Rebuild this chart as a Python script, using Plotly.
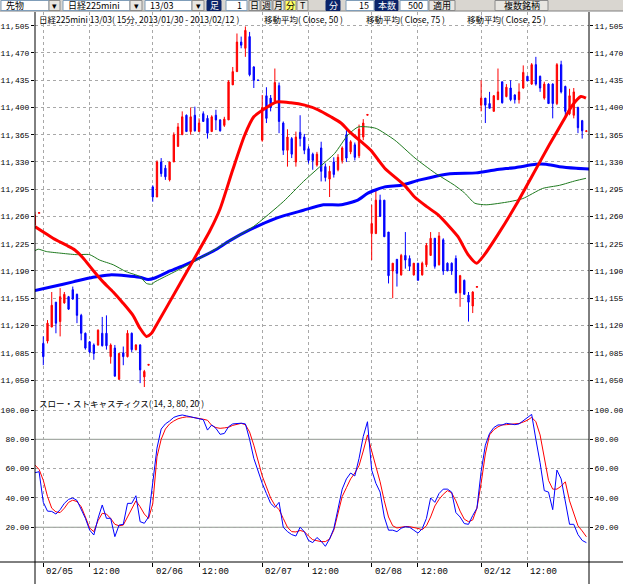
import plotly.graph_objects as go

# ---------------- data ----------------
# 15-minute bars, index 0 = first bar of 02/05, 26 bars per trading day
bar_start = -2
opens = [11249, 11264,
         11097, 11100, 11118, 11150, 11125, 11149, 11157, 11166, 11160, 11133, 11110, 11099, 11095,
         11095, 11110, 11110, 11080, 11091, 11051, 11085, 11080, 11110, 11089, 11095, 11054, 11069,
         11298, 11285, 11330, 11322, 11307, 11330, 11350, 11365, 11390, 11369, 11390, 11369, 11392,
         11386, 11369, 11390, 11384, 11377, 11384, 11429, 11446, 11484, 11476, 11491, 11452, 11435,
         11358, 11415, 11412, 11408, 11428, 11380, 11345, 11360, 11330, 11368, 11362, 11347, 11340,
         11326, 11348, 11324, 11308, 11330, 11320, 11332, 11365, 11343, 11352, 11338, 11362, 11390,
         11238, 11238, 11281, 11281, 11240, 11190, 11205, 11185, 11210, 11206, 11185, 11200, 11185,
         11198, 11210, 11232, 11198, 11230, 11200, 11200, 11206, 11162, 11178, 11159, 11145, 11169,
         11403, 11412, 11405, 11395, 11410, 11433, 11414, 11425, 11416, 11410, 11425, 11440, 11430,
         11455, 11440, 11412, 11430, 11430, 11405, 11455, 11427, 11392, 11390, 11400, 11383, 11369]
highs = [11266, 11265,
         11106, 11127, 11163, 11150, 11168, 11163, 11158, 11170, 11161, 11135, 11111, 11100, 11097,
         11115, 11131, 11133, 11097, 11095, 11085, 11093, 11114, 11111, 11096, 11096, 11063, 11070,
         11300, 11332, 11335, 11326, 11330, 11368, 11380, 11395, 11391, 11400, 11401, 11386, 11395,
         11390, 11390, 11397, 11385, 11388, 11435, 11452, 11495, 11491, 11504, 11497, 11453, 11435,
         11416, 11426, 11416, 11450, 11432, 11382, 11372, 11362, 11369, 11390, 11366, 11350, 11342,
         11343, 11356, 11328, 11325, 11336, 11340, 11350, 11372, 11358, 11355, 11378, 11385, 11391,
         11275, 11294, 11288, 11281, 11240, 11200, 11205, 11212, 11240, 11210, 11200, 11200, 11202,
         11226, 11240, 11232, 11240, 11232, 11201, 11201, 11210, 11185, 11179, 11163, 11164, 11170,
         11435, 11412, 11420, 11416, 11450, 11433, 11430, 11435, 11417, 11431, 11454, 11441, 11457,
         11465, 11441, 11433, 11431, 11431, 11457, 11460, 11428, 11424, 11425, 11401, 11384, 11370]
lows = [11249, 11264,
        11069, 11097, 11118, 11110, 11106, 11148, 11140, 11153, 11123, 11101, 11089, 11084, 11076,
        11094, 11093, 11089, 11071, 11054, 11050, 11069, 11079, 11086, 11088, 11046, 11041, 11069,
        11279, 11285, 11311, 11307, 11305, 11330, 11350, 11365, 11369, 11365, 11369, 11369, 11382,
        11360, 11369, 11371, 11369, 11375, 11384, 11429, 11446, 11476, 11465, 11440, 11425, 11435,
        11356, 11380, 11395, 11405, 11367, 11339, 11324, 11335, 11324, 11350, 11340, 11328, 11320,
        11324, 11305, 11305, 11285, 11310, 11318, 11328, 11330, 11340, 11332, 11335, 11358, 11390,
        11204, 11238, 11260, 11234, 11174, 11155, 11170, 11184, 11193, 11190, 11184, 11178, 11184,
        11195, 11210, 11193, 11197, 11185, 11190, 11185, 11161, 11144, 11160, 11125, 11136, 11169,
        11395, 11380, 11399, 11395, 11410, 11405, 11413, 11408, 11405, 11405, 11424, 11434, 11429,
        11428, 11420, 11410, 11405, 11386, 11403, 11418, 11388, 11390, 11386, 11367, 11360, 11369]
closes = [11262, 11265,
          11080, 11123, 11146, 11123, 11157, 11160, 11141, 11154, 11133, 11110, 11091, 11086, 11084,
          11114, 11094, 11094, 11095, 11055, 11084, 11080, 11110, 11089, 11095, 11063, 11061, 11070,
          11285, 11330, 11315, 11311, 11330, 11365, 11375, 11388, 11369, 11388, 11370, 11380, 11382,
          11367, 11388, 11384, 11370, 11385, 11433, 11446, 11484, 11480, 11499, 11442, 11435, 11435,
          11400, 11386, 11400, 11432, 11382, 11345, 11362, 11340, 11362, 11360, 11345, 11332, 11332,
          11340, 11318, 11310, 11318, 11314, 11336, 11348, 11335, 11356, 11336, 11372, 11380, 11391,
          11251, 11281, 11260, 11234, 11184, 11200, 11187, 11210, 11204, 11196, 11200, 11178, 11200,
          11223, 11232, 11196, 11235, 11190, 11190, 11190, 11162, 11184, 11160, 11150, 11163, 11170,
          11412, 11403, 11399, 11415, 11420, 11406, 11426, 11410, 11410, 11420, 11445, 11434, 11455,
          11430, 11425, 11430, 11405, 11405, 11455, 11420, 11395, 11415, 11420, 11374, 11370, 11370]

# moving averages (sampled along the curves; x = bar index)
ma25_idx = [-2, 0, 2.3, 5.5, 7.5, 9.4, 11.8, 14.2, 16.6, 18.9, 21.3, 22.9, 24.5, 25.7, 26.5, 32.5,
            39.6, 42, 45, 47.8, 50, 52.5, 55.4, 58.8, 62.1, 65.3, 68.3, 70.7, 73.1, 75.5, 77.8,
            81.1, 85.8, 88.2, 91.0, 93.8, 96.1, 98.5, 100.9, 102.9, 104.8, 107.9, 112.3, 116.2,
            120.2, 123.4, 125.7, 127.7, 128.9]
ma25_val = [11247, 11240, 11232, 11223, 11217, 11207, 11191, 11176, 11163, 11149, 11133, 11117,
            11106, 11110, 11117, 11174, 11242, 11270, 11320, 11364, 11388, 11398, 11407, 11406,
            11403, 11397, 11388, 11380, 11367, 11356, 11345, 11322, 11300, 11285, 11273, 11262,
            11249, 11234, 11211, 11200, 11211, 11236, 11275, 11313, 11352, 11382, 11403, 11414, 11412]
ma50_idx = [-2, -1.2, 0.7, 3.9, 7.8, 11, 13.4, 16.6, 19.7, 22.9, 24.5, 25.7, 26.5, 30.1, 34.8,
            39.6, 44.3, 49.9, 57, 61.8, 65.3, 69.2, 72.4, 74.8, 77.1, 79.1, 83.5, 88.3, 93.0,
            97.7, 100.1, 102.5, 105.2, 110.7, 113.9, 118.6, 122.6, 126.5, 128.9]
ma50_val = [11216, 11218, 11215, 11213, 11211, 11211, 11204, 11198, 11189, 11183, 11174, 11173,
            11176, 11186, 11199, 11214, 11229, 11247, 11279, 11305, 11322, 11341, 11365, 11375,
            11375, 11373, 11358, 11335, 11316, 11300, 11290, 11277, 11275, 11279, 11283, 11296,
            11300, 11306, 11309]
ma75_idx = [-2, 2.3, 7.1, 11.8, 15.8, 19.7, 22.9, 24.9, 26.5, 30.1, 33.7, 37.2, 40.8, 44.3, 49.1,
            55.4, 61.8, 66.5, 70.8, 74.7, 77.1, 81.1, 85.0, 89.5, 96.6, 102.8, 107.5, 112.3, 117.0,
            119.4, 122.6, 126.6, 129.7]
ma75_val = [11165, 11170, 11176, 11182, 11185, 11184, 11182, 11179, 11181, 11190, 11198, 11207,
            11217, 11229, 11243, 11258, 11268, 11275, 11275, 11281, 11290, 11298, 11300, 11307,
            11315, 11316, 11320, 11323, 11327, 11327, 11324, 11322, 11321]

# slow stochastics (%K blue, %D red), one value per bar from index -2
stoch_k = [57.2, 57.9,
           37, 31, 30.8, 29, 32, 36.3, 39, 40, 38.3, 31.7, 26.1, 18.1, 14.7, 26, 35.2, 26.1, 26.1,
           13.6, 21.5, 22, 36.3, 36.3, 41.5, 23.8, 22.7, 27,
           50, 74, 87, 90.5, 92.5, 95, 96, 96.6, 96, 95.4, 95, 94.3, 93.4, 86.3, 89.8, 87.5, 83.4,
           84, 88.6, 90.5, 91, 91, 90.5, 80, 67, 58,
           50, 43, 36.3, 33.5, 37, 20, 17, 15, 14, 20, 17, 11, 9.5, 13, 10.5, 7, 12, 19, 33, 46,
           53, 57, 55, 67, 82, 92,
           59, 50, 44, 27, 18, 18, 17, 19.3, 20.4, 20, 18, 16, 19, 26, 40, 37, 43, 46, 46, 44, 30,
           27, 22.5, 22, 28, 33,
           58, 76, 84, 88, 89.8, 89.8, 90.9, 90.6, 90, 90.5, 92.6, 95, 97, 80, 64, 45, 44, 32, 59,
           53, 38, 22, 22, 15, 11, 9.5]
stoch_d = [62.5, 59.5,
           52, 41, 33, 30.5, 30, 33, 37, 38.5, 37.5, 34, 27, 19.5, 17, 24.5, 29.5, 29, 26, 22, 21,
           21.5, 27, 32, 38, 34, 29, 26,
           36, 68, 80, 87, 90.5, 92.5, 94, 94.8, 95.3, 95.2, 94.8, 94.3, 93.7, 93, 89.5, 88, 87.5,
           87.8, 88.2, 89.5, 90.3, 90.9, 90, 85, 76, 65,
           55, 47.5, 40, 35, 32, 26, 20, 17, 16.8, 17.8, 17, 14, 11.5, 10.8, 10.2, 10.2, 12, 18,
           30, 41, 47, 53, 57, 62, 72, 83,
           72, 62, 51, 38, 27, 21, 19.5, 20, 20.5, 20.4, 20, 19.2, 18.3, 21, 27, 34.5, 39, 42.5,
           45, 43.5, 38, 31, 25.5, 23.8, 25, 33,
           50, 70, 83, 86.5, 88.5, 89.8, 90, 90.2, 90.4, 90.8, 91.8, 93, 95, 92, 83, 67, 52, 46,
           46, 48, 51, 38, 29, 21, 17.5, 13.5]

tick_idx = [0, 11, 26, 37, 52, 63, 78, 89, 104, 115]
tick_txt = ["02/05", "12:00", "02/06", "12:00", "02/07", "12:00", "02/08", "12:00", "02/12", "12:00"]
price_ticks = list(range(11050, 11506, 35))
stoch_ticks = [20, 40, 60, 80, 100]

bars = list(range(bar_start, bar_start + len(opens)))

# ---------------- layout helpers (pixels -> paper) ----------------
W, H = 623, 584
L, R = 35, 589
T, B = 12, 562
SPLIT = 395


def px(X):
    return (X - L) / (R - L)


def py(Y):
    return (B - Y) / (B - T)


JP = "Noto Sans CJK JP"
MONO = "Liberation Mono, DejaVu Sans Mono, monospace"
GRID = "#a8a8a8"

fig = go.Figure()

fig.add_trace(go.Candlestick(
    x=bars, open=opens, high=highs, low=lows, close=closes,
    increasing=dict(line=dict(color="#ff0000", width=1), fillcolor="#ff0000"),
    decreasing=dict(line=dict(color="#0000ff", width=1), fillcolor="#0000ff"),
    whiskerwidth=0, xaxis="x", yaxis="y", showlegend=False, hoverinfo="skip"))

fig.add_trace(go.Scatter(x=ma75_idx, y=ma75_val, mode="lines", xaxis="x", yaxis="y",
                         line=dict(color="#0000ff", width=3, shape="spline", smoothing=0.6),
                         showlegend=False, hoverinfo="skip"))
fig.add_trace(go.Scatter(x=ma50_idx, y=ma50_val, mode="lines", xaxis="x", yaxis="y",
                         line=dict(color="#1f7a1f", width=1, shape="spline", smoothing=0.6),
                         showlegend=False, hoverinfo="skip"))
fig.add_trace(go.Scatter(x=ma25_idx, y=ma25_val, mode="lines", xaxis="x", yaxis="y",
                         line=dict(color="#ff0000", width=3, shape="spline", smoothing=0.6),
                         showlegend=False, hoverinfo="skip"))

fig.add_trace(go.Scatter(x=bars, y=stoch_d, mode="lines", xaxis="x2", yaxis="y2",
                         line=dict(color="#ff0000", width=1), showlegend=False, hoverinfo="skip"))
fig.add_trace(go.Scatter(x=bars, y=stoch_k, mode="lines", xaxis="x2", yaxis="y2",
                         line=dict(color="#0000ff", width=1), showlegend=False, hoverinfo="skip"))

p_top = 11505 + (25.7 - T) * 1.2842
p_bot = 11505 - (SPLIT - 25.7) * 1.2842
s_top = 100 + (410 - SPLIT) / 1.4656
s_bot = 100 - (B - 410) / 1.4656
x_lo = (L - 43.3) / 4.21
x_hi = (R - 43.3) / 4.21

axis_font = dict(family=MONO, size=8, color="#000000")
TL = 3

fig.update_layout(
    width=W, height=H, autosize=False,
    margin=dict(l=L, r=W - R, t=T, b=H - B, pad=0, autoexpand=False),
    paper_bgcolor="#ffffff", plot_bgcolor="#ffffff",
    boxgap=0.55,
    xaxis=dict(domain=[0, 1], range=[x_lo, x_hi], anchor="y", showticklabels=False,
               tickvals=tick_idx, ticks="", showgrid=True, gridcolor=GRID, griddash="dot",
               gridwidth=1, zeroline=False, showline=False, rangeslider=dict(visible=False),
               automargin=False),
    xaxis2=dict(domain=[0, 1], range=[x_lo, x_hi], anchor="y2", matches="x",
                tickvals=tick_idx, showticklabels=False, ticks="outside", ticklen=4,
                tickcolor="#000000", showgrid=True, gridcolor=GRID, griddash="dot", gridwidth=1,
                zeroline=False, showline=False, automargin=False),
    yaxis=dict(domain=[py(SPLIT), 1], range=[p_bot, p_top], anchor="x", side="left",
               tickvals=price_ticks, tickformat=",d", ticks="outside", ticklen=TL,
               tickcolor="#000000", tickfont=axis_font, showgrid=True, gridcolor=GRID,
               griddash="dot", zeroline=False, showline=False, automargin=False),
    yaxis3=dict(overlaying="y", side="right", range=[p_bot, p_top], anchor="x",
                tickvals=price_ticks, tickformat=",d", ticks="outside", ticklen=TL,
                tickcolor="#000000", tickfont=axis_font, showgrid=False, zeroline=False,
                showline=False, automargin=False),
    yaxis2=dict(domain=[0, py(SPLIT)], range=[s_bot, s_top], anchor="x2", side="left",
                tickvals=stoch_ticks, tickformat=".2f", ticks="outside", ticklen=TL,
                tickcolor="#000000", tickfont=axis_font, showgrid=True, gridcolor=GRID,
                griddash="dot", zeroline=False, showline=False, automargin=False),
    yaxis4=dict(overlaying="y2", side="right", range=[s_bot, s_top], anchor="x2",
                tickvals=stoch_ticks, tickformat=".2f", ticks="outside", ticklen=TL,
                tickcolor="#000000", tickfont=axis_font, showgrid=False, zeroline=False,
                showline=False, automargin=False),
)

# dummy traces so that the right-hand axes render
fig.add_trace(go.Scatter(x=[None], y=[None], xaxis="x", yaxis="y3", showlegend=False))
fig.add_trace(go.Scatter(x=[None], y=[None], xaxis="x2", yaxis="y4", showlegend=False))

shapes = []
# solid reference levels 80 / 20 in the stochastic panel
for lvl in (80, 20):
    shapes.append(dict(type="line", xref="paper", yref="y2", x0=0, x1=1, y0=lvl, y1=lvl,
                       line=dict(color="#8e9a8e", width=1), layer="below"))
# frame lines
shapes.append(dict(type="line", xref="paper", yref="paper", x0=px(0), x1=px(W), y0=py(B), y1=py(B),
                   line=dict(color="#000000", width=1)))
for X in (L, R):
    shapes.append(dict(type="line", xref="paper", yref="paper", x0=px(X), x1=px(X),
                       y0=py(H), y1=py(T), line=dict(color="#000000", width=1)))

# toolbar
TB = 11
shapes.append(dict(type="rect", xref="paper", yref="paper", x0=px(0), x1=px(W), y0=py(TB), y1=py(0),
                   fillcolor="#d9d6d0", line=dict(width=0), layer="above"))
shapes.append(dict(type="line", xref="paper", yref="paper", x0=px(0), x1=px(W), y0=py(TB), y1=py(TB),
                   line=dict(color="#808080", width=1)))

annotations = []


def box(x0, x1, fill, text=None, color="#000000", align="left", border="#7f9db9"):
    shapes.append(dict(type="rect", xref="paper", yref="paper", x0=px(x0), x1=px(x1),
                       y0=py(TB - 0.5), y1=py(0.5), fillcolor=fill,
                       line=dict(color=border, width=1), layer="above"))
    if text is not None:
        if align == "left":
            xx, anc = x0 + 3, "left"
        elif align == "right":
            xx, anc = x1 - 3, "right"
        else:
            xx, anc = (x0 + x1) / 2, "center"
        annotations.append(dict(xref="paper", yref="paper", x=px(xx), y=py(TB / 2), text=text,
                                showarrow=False, xanchor=anc, yanchor="middle",
                                font=dict(family=JP, size=9, color=color)))


NAVY = "#0a246a"
BTN = "#e8e6e1"
box(1, 49, "#ffffff", "先物")
box(49, 60, BTN, "▾", align="center", border="#8a8a8a")
box(63, 130, "#ffffff", "日経225mini")
box(130, 142, BTN, "▾", align="center", border="#8a8a8a")
box(145, 192, "#ffffff", "13/03")
box(192, 204, BTN, "▾", align="center", border="#8a8a8a")
box(207, 221, NAVY, "足", color="#ffffff", align="center", border=NAVY)
box(226, 247, "#ffffff", "1", align="right")
box(249, 260, BTN, "日", align="center", border="#8a8a8a")
box(261, 272, BTN, "週", align="center", border="#8a8a8a")
box(273, 284, BTN, "月", align="center", border="#8a8a8a")
box(285, 296, "#ffff66", "分", align="center", border="#8a8a8a")
box(297, 308, BTN, "T", align="center", border="#8a8a8a")
box(326, 340, NAVY, "分", color="#ffffff", align="center", border=NAVY)
box(346, 374, "#ffffff", "15", align="right")
box(375, 398, NAVY, "本数", color="#ffffff", align="center", border=NAVY)
box(400, 428, "#ffffff", "500", align="right")
box(429, 455, BTN, "適用", align="center", border="#8a8a8a")
box(495, 548, BTN, "複数銘柄", align="center", border="#8a8a8a")

# chart header texts
hdr = dict(family=JP, size=8.5, color="#000000")
annotations.append(dict(xref="paper", yref="paper", x=px(37), y=py(18.5), xanchor="left",
                        yanchor="middle", showarrow=False, font=hdr,
                        text="日経225mini 13/03( 15分, 2013/01/30 - 2013/02/12 )"))
for X, txt in ((262, "移動平均( Close, 50 )"), (364, "移動平均( Close, 75 )"),
               (465, "移動平均( Close, 25 )")):
    annotations.append(dict(xref="paper", yref="paper", x=px(X), y=py(18.5), xanchor="left",
                            yanchor="middle", showarrow=False, font=hdr, text=txt))
annotations.append(dict(xref="paper", yref="paper", x=px(37), y=py(403), xanchor="left",
                        yanchor="middle", showarrow=False, font=hdr,
                        text="スロー・ストキャスティクス( 14, 3, 80, 20 )"))

# date / time labels, left-aligned at their tick
for xi, txt in zip(tick_idx, tick_txt):
    annotations.append(dict(xref="x2", yref="paper", x=xi, y=py(572), xanchor="left",
                            yanchor="middle", showarrow=False, xshift=1, text=txt,
                            font=dict(family=MONO, size=9, color="#000000")))

fig.update_layout(shapes=shapes, annotations=annotations)

fig.write_html("out.html")
